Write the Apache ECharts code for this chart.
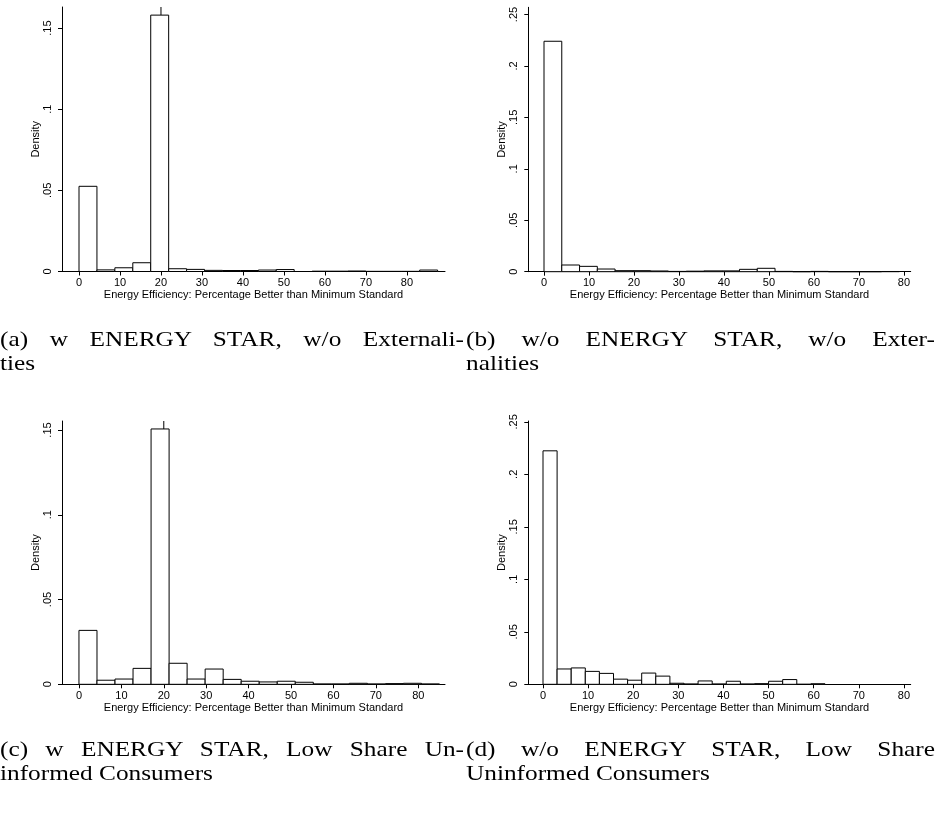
<!DOCTYPE html>
<html>
<head>
<meta charset="utf-8">
<script src="https://cdn.jsdelivr.net/npm/echarts@6/dist/echarts.min.js"></script>
<style>
  html, body { margin: 0; padding: 0; background: #fff; overflow: hidden; }
  #chart { position: absolute; left: 0; top: 0; width: 935px; height: 817px; }
  .cap { position: absolute; font-family: 'Liberation Serif', serif; font-size: 22px; line-height: 24px;
         color: #000; transform: scaleX(1.15); transform-origin: left top; }
  .cap .l1 { text-align: justify; text-align-last: justify; white-space: nowrap; }
</style>
</head>
<body>
<div id="chart"></div>
<div class="cap" style="left:0px;top:327px;width:403.5px"><div class="l1">(a) w ENERGY STAR, w/o Externali-</div><div>ties</div></div>
<div class="cap" style="left:466px;top:327px;width:407.8px"><div class="l1">(b) w/o ENERGY STAR, w/o Exter-</div><div>nalities</div></div>
<div class="cap" style="left:0px;top:737px;width:403.5px"><div class="l1">(c) w ENERGY STAR, Low Share Un-</div><div>informed Consumers</div></div>
<div class="cap" style="left:466px;top:737px;width:407.8px"><div class="l1">(d) w/o ENERGY STAR, Low Share</div><div>Uninformed Consumers</div></div>
<script>
// histogram densities, 20 bins each
const binWidthA = 4.375
const densityA = [0.0525, 0.0010, 0.0023, 0.0054, 0.1580, 0.0017, 0.0013, 0.0007, 0.0006, 0.0006,
                  0.0009, 0.0012, 0, 0.0002, 0.0002, 0.0003, 0.0001, 0.0001, 0.0001, 0.0009]

const binWidthB = 3.95
const densityB = [0.2240, 0.0065, 0.0052, 0.0026, 0.0010, 0.0010, 0.0007, 0.0003, 0.0005, 0.0008,
                  0.0008, 0.0023, 0.0033, 0.0003, 0, 0.0003, 0, 0, 0, 0.0002]

const binWidthC = 4.25
const densityC = [0.0318, 0.0024, 0.0031, 0.0094, 0.1506, 0.0124, 0.0031, 0.0090, 0.0029, 0.0018,
                  0.0014, 0.0018, 0.0012, 0.0002, 0.0002, 0.0006, 0.0002, 0.0004, 0.0006, 0.0002]

const binWidthD = 3.125
const densityD = [0.2224, 0.0146, 0.0156, 0.0123, 0.0104, 0.0049, 0.0039, 0.0107, 0.0078, 0.0010,
                  0.0003, 0.0032, 0.0003, 0.0029, 0.0003, 0.0006, 0.0029, 0.0045, 0, 0.0005]

const xTicks = [0, 10, 20, 30, 40, 50, 60, 70, 80]
const yTicksA = [0, 0.05, 0.1, 0.15]
const yTicksB = [0, 0.05, 0.1, 0.15, 0.2, 0.25]
const refLineX = 20

const xTitle = 'Energy Efficiency: Percentage Better than Minimum Standard'
const yTitle = 'Density'

const panels = [
  { grid: { left: 62, top: 7, width: 383, height: 264.5 }, xmin: -4.15, xmax: 89.3, ymax: 0.163,
    w: binWidthA, dens: densityA, yTicks: yTicksA, refLine: true },
  { grid: { left: 528.3, top: 7.3, width: 382.4, height: 264.4 }, xmin: -3.49, xmax: 81.5, ymax: 0.257,
    w: binWidthB, dens: densityB, yTicks: yTicksB, refLine: false },
  { grid: { left: 62, top: 421, width: 383, height: 263.3 }, xmin: -4.0, xmax: 86.3, ymax: 0.1553,
    w: binWidthC, dens: densityC, yTicks: yTicksA, refLine: true },
  { grid: { left: 528.3, top: 421, width: 382.4, height: 263.3 }, xmin: -3.26, xmax: 81.5, ymax: 0.2508,
    w: binWidthD, dens: densityD, yTicks: yTicksB, refLine: false }
]

const font = 'Liberation Sans, Arial, sans-serif'
const axisLine = { show: true, onZero: false, lineStyle: { color: '#000', width: 1 } }

function fmtY(v) {
  if (Math.abs(v) < 1e-9) return '0'
  return String(+v.toFixed(2)).replace(/^0/, '')
}

const chart = echarts.init(document.getElementById('chart'), null, { renderer: 'canvas' })

const grids = [], xAxes = [], yAxes = [], series = []
panels.forEach((p, i) => {
  grids.push(Object.assign({ containLabel: false }, p.grid))
  xAxes.push({
    type: 'value', gridIndex: i, min: p.xmin, max: p.xmax,
    name: xTitle, nameLocation: 'middle', nameGap: 18,
    nameTextStyle: { fontFamily: font, fontSize: 11, color: '#000' },
    axisLine: axisLine,
    axisTick: { show: true, length: 4, customValues: xTicks, lineStyle: { color: '#000' } },
    axisLabel: { customValues: xTicks, fontFamily: font, fontSize: 11, color: '#000', margin: 6 },
    splitLine: { show: false }
  })
  yAxes.push({
    type: 'value', gridIndex: i, min: 0, max: p.ymax,
    name: yTitle, nameLocation: 'middle', nameGap: 19,
    nameTextStyle: { fontFamily: font, fontSize: 11, color: '#000' },
    axisLine: axisLine,
    axisTick: { show: true, length: 4, customValues: p.yTicks, lineStyle: { color: '#000' } },
    axisLabel: { customValues: p.yTicks, rotate: 90, fontFamily: font, fontSize: 11, color: '#000', margin: 8.5,
                 formatter: fmtY },
    splitLine: { show: false }
  })
  if (p.refLine) {
    series.push({
      type: 'line', xAxisIndex: i, yAxisIndex: i, z: 1, silent: true, symbol: 'none',
      lineStyle: { color: '#000', width: 1 },
      data: [[refLineX, 0], [refLineX, p.ymax]]
    })
  }
  series.push({
    type: 'custom', xAxisIndex: i, yAxisIndex: i, z: 2, silent: true,
    data: p.dens.map((d, k) => [k * p.w, (k + 1) * p.w, d]),
    renderItem: (params, api) => {
      const a = api.coord([api.value(0), api.value(2)])
      const b = api.coord([api.value(1), 0])
      return {
        type: 'rect',
        shape: { x: a[0], y: a[1], width: b[0] - a[0], height: b[1] - a[1] },
        style: { fill: '#fff', stroke: '#000', lineWidth: 1 }
      }
    }
  })
})

chart.setOption({
  animation: false,
  backgroundColor: '#fff',
  grid: grids,
  xAxis: xAxes,
  yAxis: yAxes,
  series: series
})
</script>
</body>
</html>
